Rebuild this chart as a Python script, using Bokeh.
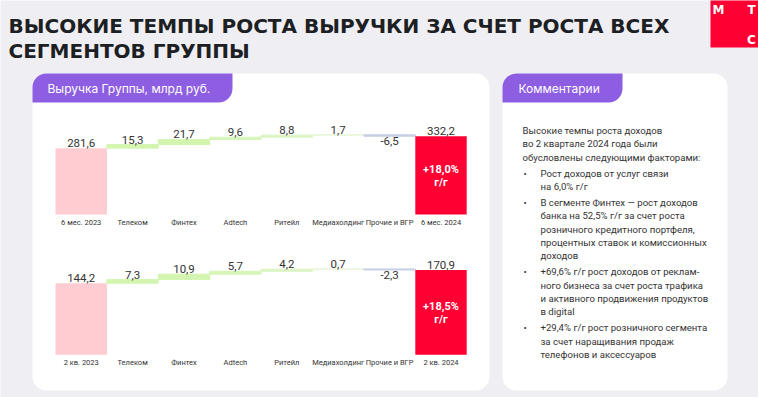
from bokeh.plotting import figure
from bokeh.models import Range1d, BoxAnnotation, ColumnDataSource
from bokeh.core.properties import value
from bokeh.embed import file_html
from bokeh.resources import INLINE

# ---------------- data ----------------
title_lines = ["ВЫСОКИЕ ТЕМПЫ РОСТА ВЫРУЧКИ ЗА СЧЕТ РОСТА ВСЕХ", "СЕГМЕНТОВ ГРУППЫ"]
chart_tab = "Выручка Группы, млрд руб."
comment_tab = "Комментарии"

segments = ["Телеком", "Финтех", "Adtech", "Ритейл", "Медиахолдинг", "Прочие и ВГР"]

h1_labels = ["6 мес. 2023", "6 мес. 2024"]
h1_start = 281.6
h1_deltas = [15.3, 21.7, 9.6, 8.8, 1.7, -6.5]
h1_end = 332.2
h1_growth = ["+18,0%", "г/г"]

q2_labels = ["2 кв. 2023", "2 кв. 2024"]
q2_start = 144.2
q2_deltas = [7.3, 10.9, 5.7, 4.2, 0.7, -2.3]
q2_end = 170.9
q2_growth = ["+18,5%", "г/г"]

comment_intro = ["Высокие темпы роста доходов", "во 2 квартале 2024 года были",
                 "обусловлены следующими факторами:"]
comment_bullets = [
    ["Рост доходов от услуг связи", "на 6,0% г/г"],
    ["В сегменте Финтех — рост доходов", "банка на 52,5% г/г за счет роста",
     "розничного кредитного портфеля,", "процентных ставок и комиссионных", "доходов"],
    ["+69,6% г/г рост доходов от реклам-", "ного бизнеса за счет роста трафика",
     "и активного продвижения продуктов", "в digital"],
    ["+29,4% г/г рост розничного сегмента", "за счет наращивания продаж",
     "телефонов и аксессуаров"],
]

# ---------------- styles / layout ----------------
W, H = 758, 397
BG = "#efeff3"
PURPLE = "#8d5de2"
RED = "#ff0032"
PINK = "#ffccd1"
TXT = "#333333"
inc_colors = ["#d3f5b0", "#d3f5b0", "#d6f5b6", "#dcf4c4", "#e8f6d8", "#c8d0e6"]

p = figure(width=W, height=H, x_range=Range1d(0, W), y_range=Range1d(H, 0),
           output_backend="svg", toolbar_location=None, min_border=0,
           x_axis_location=None, y_axis_location=None)
p.grid.visible = False
p.outline_line_color = None
p.background_fill_color = BG
p.border_fill_color = BG

# panels
for (l, r) in [(32, 489), (502, 727)]:
    p.add_layout(BoxAnnotation(left=l, right=r, top=73, bottom=390, fill_color="white",
                               fill_alpha=1, line_color=None, border_radius=14, level="underlay"))
for (l, r) in [(32, 232), (502, 622)]:
    p.add_layout(BoxAnnotation(left=l, right=r, top=73, bottom=102, fill_color=PURPLE,
                               fill_alpha=1, line_color=None, border_radius=(14, 0, 14, 0),
                               level="underlay"))
# logo
p.add_layout(BoxAnnotation(left=710, right=760, top=-2, bottom=47, fill_color=RED,
                           fill_alpha=1, line_color=None, level="underlay"))
p.text(x=[718, 751, 751], y=[9, 9, 39], text=["М", "Т", "С"], text_color="white",
       text_font=value("DejaVu Sans"), text_font_style="bold", text_font_size="12px",
       text_align="center", text_baseline="middle")

# title
p.text(x=[8, 8], y=[25, 50.5], text=title_lines, text_color="#1d2023",
       text_font=value("DejaVu Sans"), text_font_style="bold", text_font_size="20px",
       text_align="left", text_baseline="alphabetic")

# tab titles
p.text(x=[47, 518], y=[88, 88], text=[chart_tab, comment_tab], text_color="white",
       text_font=value("Inter"), text_font_style="normal", text_font_size="12px",
       text_align="left", text_baseline="middle")

# comments
cx, bx, y = 522, 540, 130.0
xs, ys, ts = [], [], []
for line in comment_intro:
    xs.append(cx); ys.append(y); ts.append(line); y += 13.25
y += 16.2 - 13.25
for bullet in comment_bullets:
    xs.append(cx + 1); ys.append(y); ts.append("•")
    for line in bullet:
        xs.append(bx); ys.append(y); ts.append(line); y += 13.25
    y += 16.2 - 13.25
p.text(x=xs, y=ys, text=ts, text_color=TXT, text_font=value("Roboto"),
       text_font_size="9.6px", text_align="left", text_baseline="middle")

# ---------------- waterfall charts ----------------
X_LEFT, SLOT = 55, 51.4
p.extra_x_ranges = {"wf": Range1d(-X_LEFT / SLOT - 0.5, (W - X_LEFT) / SLOT - 0.5)}


def yrange(base_px, ppu):
    end = base_px / ppu
    return Range1d(start=end - H / ppu, end=end)


p.extra_y_ranges = {"h1": yrange(214, 0.2355), "q2": yrange(354.3, 0.4966)}


def fmt(v):
    return f"{v:.1f}".replace(".", ",")


def waterfall(rname, start, deltas, end, labels, growth):
    cats = [labels[0]] + segments + [labels[1]]
    xs = list(range(len(cats)))
    bottoms, tops, cols, las = [0], [start], [PINK], [0]
    vtxt, vy, vneg = [fmt(start)], [start], [False]
    cum = start
    for d, c in zip(deltas, inc_colors):
        lo, hi = min(cum, cum + d), max(cum, cum + d)
        bottoms.append(lo); tops.append(hi); cols.append(c); las.append(1)
        vtxt.append(fmt(d)); vy.append(lo if d < 0 else hi); vneg.append(d < 0)
        cum += d
    bottoms.append(0); tops.append(end); cols.append(RED); las.append(0)
    vtxt.append(fmt(end)); vy.append(end); vneg.append(False)

    src = ColumnDataSource(dict(x=xs, bottom=bottoms, top=tops, color=cols, la=las))
    p.vbar(x="x", width=1.0, bottom="bottom", top="top", fill_color="color",
           line_color="color", line_alpha="la", line_width=1, source=src,
           x_range_name="wf", y_range_name=rname)

    pos = [i for i in xs if not vneg[i]]
    neg = [i for i in xs if vneg[i]]
    p.text(x=pos, y=[vy[i] for i in pos], text=[vtxt[i] for i in pos], text_color=TXT,
           text_font=value("Roboto"), text_font_size="11.5px", text_align="center",
           text_baseline="bottom", y_offset=-1, x_range_name="wf", y_range_name=rname)
    p.text(x=neg, y=[vy[i] for i in neg], text=[vtxt[i] for i in neg], text_color=TXT,
           text_font=value("Roboto"), text_font_size="11.5px", text_align="center",
           text_baseline="top", y_offset=1, x_range_name="wf", y_range_name=rname)
    # category labels
    p.text(x=xs, y=[0] * len(xs), text=cats, text_color=TXT, text_font=value("Roboto"),
           text_font_size="7.5px", text_align="center", text_baseline="middle", y_offset=7.5,
           x_range_name="wf", y_range_name=rname)
    # growth
    last = xs[-1]
    p.text(x=[last, last], y=[end / 2, end / 2], text=growth, text_color="white",
           text_font=value("Roboto"), text_font_style="bold", text_font_size="11px",
           text_align="center", text_baseline="middle", y_offset=[-6, 7],
           x_range_name="wf", y_range_name=rname)


waterfall("h1", h1_start, h1_deltas, h1_end, h1_labels, h1_growth)
waterfall("q2", q2_start, q2_deltas, q2_end, q2_labels, q2_growth)

open("out.html", "w").write(file_html(p, INLINE))
